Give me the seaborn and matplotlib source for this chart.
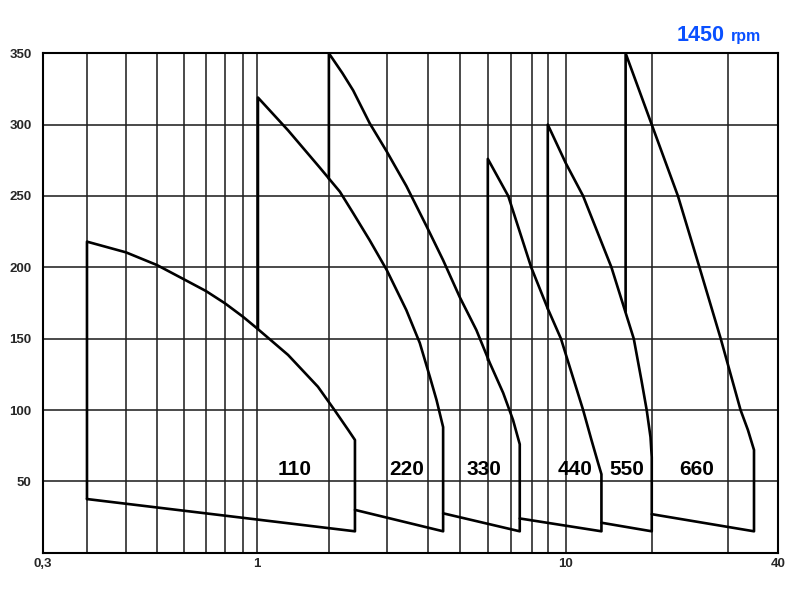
import matplotlib
matplotlib.use("Agg")
import matplotlib.pyplot as plt
import numpy as np
import pandas as pd
import seaborn as sns

# pump model names
pumps = ["110", "220", "330", "440", "550", "660"]

# top (head) curve of every pump: flow q and head h
q_110 = [0.35, 0.4, 0.5, 0.6, 0.7, 0.8, 0.9, 1.0, 1.35, 1.8, 2.08, 2.29, 2.4]
h_110 = [218, 210.5, 201.6, 191.6, 183.4, 174.8, 165.4, 157.3, 138.6, 116.3, 100, 86, 79]

q_220 = [1.01, 1.35, 1.83, 2.16, 2.37, 2.66, 3.0, 3.44, 3.78, 4.06, 4.25, 4.45]
h_220 = [319, 296, 270, 253, 238, 219, 198, 170, 147, 123, 107, 88]

q_330 = [2.0, 2.2, 2.37, 2.66, 3.0, 3.44, 3.96, 4.45, 5.0, 5.57, 6.08, 6.65, 7.1, 7.41]
h_330 = [350, 336, 324, 301, 281, 257, 229, 205, 179, 156, 133, 112, 93, 76]

q_440 = [6.0, 6.88, 7.97, 9.0, 9.72, 11.5, 12.3, 12.97, 13.33]
h_440 = [276, 250, 200, 171, 150, 100, 79, 63, 55]

q_550 = [9.0, 10.0, 11.5, 14.45, 17.3, 18.4, 19.2, 19.8, 20.0]
h_550 = [300, 273, 250, 200, 150, 121, 100, 81, 67]

q_660 = [16.2, 20.0, 23.0, 25.8, 28.9, 32.3, 33.7, 34.9]
h_660 = [350, 300, 250, 200, 150, 100, 86, 72]

# where the left edge of each field stops (on the previous curve)
left_foot = [37.6, 157, 262, 135, 171, 169]
# lower boundary of each field: start point and end head
floor_q0 = [0.35, 2.4, 4.45, 7.41, 13.33, 20.0]
floor_h0 = [37.6, 30, 27.6, 24, 21, 27]
floor_h1 = [15, 15, 15, 15, 15, 15]

# label anchors (flow) for the model names
label_q = [1.44, 3.44, 5.86, 10.75, 16.4, 25.4]
label_h = 58

# grid values of the (hand drawn, uneven) flow axis and their spacing
x_grid = [0.3, 0.35, 0.4, 0.5, 0.6, 0.7, 0.8, 0.9, 1, 2, 3, 4, 5, 6, 7, 8, 9,
          10, 20, 30, 40]
x_grid_pos = [42.7, 87, 126, 157, 184, 206, 225, 243, 257, 329, 387, 428,
              460, 488, 511, 532, 548, 566, 652, 728, 778]
y_ticks = [50, 100, 150, 200, 250, 300, 350]

grid_log = np.log10(x_grid)


def fwd(x):
    x = np.asarray(x, dtype=float)
    return np.interp(np.log10(np.clip(x, 1e-3, None)), grid_log, x_grid_pos)


def inv(p):
    return 10 ** np.interp(np.asarray(p, dtype=float), x_grid_pos, grid_log)


curves = [(q_110, h_110), (q_220, h_220), (q_330, h_330),
          (q_440, h_440), (q_550, h_550), (q_660, h_660)]

rows = []
for i, (q, h) in enumerate(curves):
    # left edge up, head curve, right edge down, floor back
    qs = [q[0]] + q + [q[-1], floor_q0[i]]
    hs = [left_foot[i]] + h + [floor_h1[i], floor_h0[i]]
    for k, (a, b) in enumerate(zip(qs, hs)):
        rows.append({"pump": pumps[i], "order": k, "q": a, "h": b})
df = pd.DataFrame(rows)

sns.set_theme(style="white")
plt.rcParams["font.family"] = ["Liberation Sans", "DejaVu Sans"]

fig = plt.figure(figsize=(8, 6), dpi=100)
ax = fig.add_axes([42.7 / 800, 47.3 / 600, 735 / 800, 499.4 / 600])
ax.set_xscale("function", functions=(fwd, inv))

sns.lineplot(data=df, x="q", y="h", units="pump", estimator=None, sort=False,
             color="black", linewidth=1.9, ax=ax, zorder=3)

ax.set_xlim(0.3, 40)
ax.set_ylim(0, 350)
ax.set_xticks([0.3, 1, 10, 40])
ax.set_xticklabels(["0,3", "1", "10", "40"])
ax.set_xticks(x_grid[1:-1], minor=True)
ax.set_yticks(y_ticks)
ax.set_yticklabels([str(v) for v in y_ticks])
ax.grid(True, which="both", color="#222222", linewidth=1.15)
ax.tick_params(which="both", length=0)
ax.tick_params(axis="y", pad=8, labelsize=9.5)
ax.tick_params(axis="x", pad=4, labelsize=9.5)
for lab in ax.get_xticklabels() + ax.get_yticklabels():
    lab.set_fontweight("heavy")
for s in ax.spines.values():
    s.set_color("black")
    s.set_linewidth(1.5)
ax.set_xlabel("")
ax.set_ylabel("")

for name, q in zip(pumps, label_q):
    ax.text(q, label_h, name, ha="center", va="center", fontsize=15,
            fontweight="bold", color="black", zorder=4)

fig.text(677 / 800, 1 - 40.7 / 600, "1450", ha="left", va="baseline",
         fontsize=15.5, fontweight="bold", color="#0a50ff")
fig.text(731 / 800, 1 - 40.7 / 600, "rpm", ha="left", va="baseline",
         fontsize=11.5, fontweight="bold", color="#0a50ff")

fig.savefig("out.png", dpi=100)
